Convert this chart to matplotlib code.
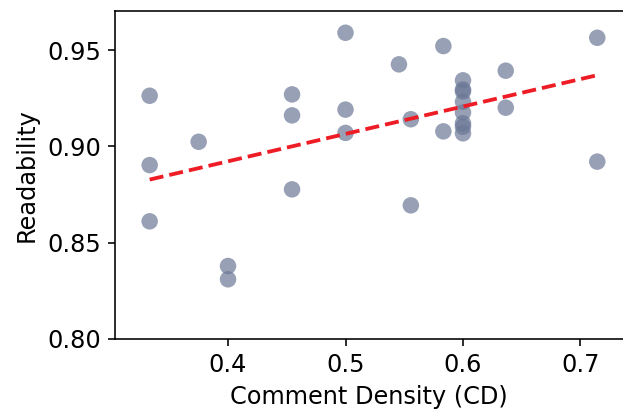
import numpy as np
import matplotlib
matplotlib.use("Agg")
import matplotlib.pyplot as plt

cd = [0.3333, 0.3333, 0.3333, 0.375, 0.4, 0.4,
      0.4545, 0.4545, 0.4545, 0.5, 0.5, 0.5,
      0.5455, 0.5556, 0.5556, 0.5833, 0.5833,
      0.6, 0.6, 0.6, 0.6, 0.6, 0.6, 0.6, 0.6,
      0.6364, 0.6364, 0.7143, 0.7143]
readability = [0.9263, 0.8903, 0.8611, 0.9024, 0.8379, 0.8310,
               0.9270, 0.9161, 0.8777, 0.9590, 0.9191, 0.9070,
               0.9426, 0.9141, 0.8694, 0.9521, 0.9078,
               0.9343, 0.9296, 0.9285, 0.9232, 0.9176, 0.9120, 0.9102, 0.9068,
               0.9393, 0.9201, 0.9564, 0.8921]
xticks = [0.4, 0.5, 0.6, 0.7]
yticks = [0.80, 0.85, 0.90, 0.95]

plt.rcParams['font.family'] = ['DejaVu Sans']
DPI = 144
W, H = 623, 409
fig = plt.figure(figsize=(W / DPI, H / DPI), dpi=DPI)
ax = fig.add_axes([115 / W, 1 - 339 / H, (623 - 115) / W, (339 - 11) / H])

x = np.array(cd)
y = np.array(readability)
ax.scatter(x, y, s=68, color='#6b7896', alpha=0.7, edgecolors='none', zorder=2)

slope, intercept = np.polyfit(x, y, 1)
xs = np.array([x.min(), x.max()])
ax.plot(xs, slope * xs + intercept, color='#ee1c25', linestyle='--', linewidth=1.9,
        zorder=3)

ax.set_xlim(0.3038, 0.7362)
ax.set_ylim(0.80, 0.9703)
ax.set_xticks(xticks)
ax.set_xticklabels([f"{t:.1f}" for t in xticks])
ax.set_yticks(yticks)
ax.set_yticklabels([f"{t:.2f}" for t in yticks])
ax.tick_params(labelsize=12)
ax.spines['right'].set_visible(False)
ax.set_xlabel('Comment Density (CD)', fontsize=12)
ax.set_ylabel('Readability', fontsize=12)

fig.savefig('out.png', dpi=DPI)
